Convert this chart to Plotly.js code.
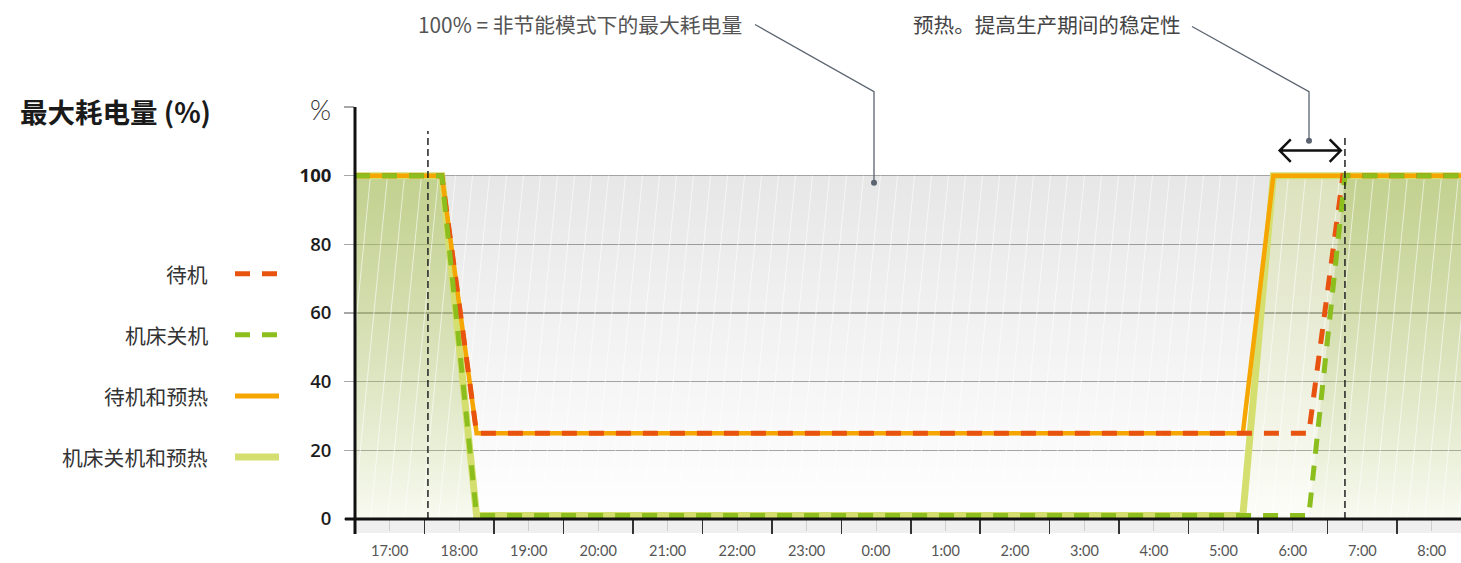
<!DOCTYPE html>
<html>
<head>
<meta charset="utf-8">
<script src="https://cdn.plot.ly/plotly-3.0.1.min.js"></script>
<style>html,body{margin:0;padding:0;background:#fff;}#chart{width:1461px;height:563px;}</style>
</head>
<body>
<div id="chart"></div>
<script>
// ---------- data (hours; values after midnight continue as 24+) ----------
const seriesNames = ['待机', '机床关机', '待机和预热', '机床关机和预热'];
const standbyX        = [16.5, 17.75, 18.25, 30.23, 30.72, 32.5];
const standbyY        = [100, 100, 25, 25, 100, 100];
const machineOffX     = [16.5, 17.75, 18.25, 30.23, 30.75, 32.5];
const machineOffY     = [100, 100, 1, 1, 100, 100];
const standbyHeatX    = [16.5, 17.75, 18.25, 29.28, 29.72, 32.5];
const standbyHeatY    = [100, 100, 25, 25, 100, 100];
const offHeatX        = [16.5, 17.75, 18.25, 29.28, 29.72, 32.5];
const offHeatY        = [100, 100, 1, 1, 100, 100];
const maxLevelX       = [16.5, 32.5];
const maxLevelY       = [100, 100];
const markerTimes     = [17.55, 30.75];      // dashed vertical markers
const preheatSpan     = [29.81, 30.69];      // double arrow span
const hourTicks       = [17,18,19,20,21,22,23,24,25,26,27,28,29,30,31,32];
const hourLabels      = ['17:00','18:00','19:00','20:00','21:00','22:00','23:00','0:00','1:00','2:00','3:00','4:00','5:00','6:00','7:00','8:00'];
const halfHourTicks   = [16.5,17.5,18.5,19.5,20.5,21.5,22.5,23.5,24.5,25.5,26.5,27.5,28.5,29.5,30.5,31.5,32.5];
const yTicks          = [0, 20, 40, 60, 80, 100, 120];
const yLabels         = ['0', '20', '40', '60', '80', '<b>100</b>', ''];
const note1 = '100% = 非节能模式下的最大耗电量';
const note2 = '预热。提高生产期间的稳定性';
const yTitle = '最大耗电量 (%)';

// ---------- styles ----------
const C_RED = '#e8540f', C_GREEN = '#8cbe1e', C_ORANGE = '#f6a600', C_LIGHT = '#d4df70';
const CJK = '"Noto Sans CJK SC", "Noto Sans", sans-serif';

// pixel helpers for layout placement (plot area: left 355, top 107.4, width 1106, height 411.6)
const L = 355, B = 519, W = 1106, H = 411.6;
const px = x => (x - L) / W;
const py = y => (B - y) / H;
const X_MIN = 16.5, X_MAX = 16.5 + W / 69.47;

// decorative hatch (thin, nearly vertical white lines)
const hatchX = [], hatchY = [];
const hStep = 17 / 69.47, hShift = 34 / 69.47;
for (let x = X_MIN - 1; x < X_MAX + 0.5; x += hStep) {
  hatchX.push(x, x + hShift, null);
  hatchY.push(0, 100, null);
}

const traces = [
  { // grey background for max consumption region
    x: maxLevelX, y: maxLevelY, type: 'scatter', mode: 'lines', line: {width: 0},
    fill: 'tozeroy', fillcolor: 'rgba(0,0,0,0.05)',
    fillgradient: {type: 'vertical', start: 0, stop: 100,
      colorscale: [[0, 'rgba(0,0,0,0.0)'], [1, 'rgba(0,0,0,0.095)']]},
    hoverinfo: 'skip', showlegend: false
  },
  { // light fill under 机床关机和预热
    x: offHeatX, y: offHeatY, type: 'scatter', mode: 'lines', line: {width: 0},
    fill: 'tozeroy', fillcolor: 'rgba(200,215,105,0.2)',
    fillgradient: {type: 'vertical', start: 0, stop: 100,
      colorscale: [[0, 'rgba(200,215,105,0.04)'], [1, 'rgba(200,215,105,0.33)']]},
    hoverinfo: 'skip', showlegend: false
  },
  { // darker fill under 机床关机
    x: machineOffX, y: machineOffY, type: 'scatter', mode: 'lines', line: {width: 0},
    fill: 'tozeroy', fillcolor: 'rgba(157,187,79,0.2)',
    fillgradient: {type: 'vertical', start: 0, stop: 100,
      colorscale: [[0, 'rgba(157,187,79,0.05)'], [1, 'rgba(157,187,79,0.42)']]},
    hoverinfo: 'skip', showlegend: false
  },
  { // hatch
    x: hatchX, y: hatchY, type: 'scatter', mode: 'lines',
    line: {color: 'rgba(255,255,255,0.6)', width: 1}, hoverinfo: 'skip', showlegend: false
  },
  { name: seriesNames[3], x: offHeatX, y: offHeatY, type: 'scatter', mode: 'lines',
    line: {color: C_LIGHT, width: 7}, showlegend: false },
  { name: seriesNames[2], x: standbyHeatX, y: standbyHeatY, type: 'scatter', mode: 'lines',
    line: {color: C_ORANGE, width: 4.5}, showlegend: false },
  { name: seriesNames[0], x: standbyX, y: standbyY, type: 'scatter', mode: 'lines',
    line: {color: C_RED, width: 5, dash: '15px,12px'}, showlegend: false },
  { name: seriesNames[1], x: machineOffX, y: machineOffY, type: 'scatter', mode: 'lines',
    line: {color: C_GREEN, width: 5, dash: '15px,12px'}, showlegend: false }
];

const shapes = [];
// tick band below x axis
shapes.push({type: 'rect', xref: 'paper', yref: 'paper', x0: 0, x1: 1, y0: py(533), y1: 0,
  fillcolor: '#efefef', line: {width: 0}, layer: 'below'});
// dashed vertical markers
markerTimes.forEach((t, i) => shapes.push({type: 'line', xref: 'x', yref: 'y', x0: t, x1: t,
  y0: 0, y1: i === 0 ? 113 : 112, line: {color: '#222', width: 1.5, dash: '7px,4px'}, layer: 'above'}));
// axis lines
shapes.push({type: 'line', xref: 'paper', yref: 'paper', x0: px(345), x1: 1, y0: 0, y1: 0,
  line: {color: '#111', width: 3}, layer: 'above'});
shapes.push({type: 'line', xref: 'paper', yref: 'paper', x0: 0, x1: 0, y0: py(534), y1: 1,
  line: {color: '#111', width: 3}, layer: 'above'});
// double arrow for preheat span
const aY = 107.3, hx = 0.16, hy = 3.3;
shapes.push({type: 'path', xref: 'x', yref: 'y', layer: 'above',
  path: `M${preheatSpan[0]},${aY} L${preheatSpan[1]},${aY} M${preheatSpan[0]+hx},${aY+hy} L${preheatSpan[0]},${aY} L${preheatSpan[0]+hx},${aY-hy} M${preheatSpan[1]-hx},${aY+hy} L${preheatSpan[1]},${aY} L${preheatSpan[1]-hx},${aY-hy}`,
  line: {color: '#111', width: 2.5}});
// leader lines
const LEAD = '#5b6470';
shapes.push({type: 'path', xref: 'paper', yref: 'paper', layer: 'above',
  path: `M${px(755)},${py(25)} L${px(874)},${py(92)} L${px(874)},${py(183)}`, line: {color: LEAD, width: 1.3}});
shapes.push({type: 'path', xref: 'paper', yref: 'paper', layer: 'above',
  path: `M${px(1192)},${py(27)} L${px(1309)},${py(92)} L${px(1309)},${py(141)}`, line: {color: LEAD, width: 1.3}});
[[874, 183], [1309, 141]].forEach(([cx, cy]) => shapes.push({type: 'circle', xref: 'paper', yref: 'paper',
  x0: px(cx - 3), x1: px(cx + 3), y0: py(cy + 3), y1: py(cy - 3), fillcolor: LEAD, line: {width: 0}, layer: 'above'}));
// legend keys
const legendY = [274, 335, 396, 457];
const legendStyle = [
  {color: C_RED, width: 5, dash: '15px,12px'},
  {color: C_GREEN, width: 5, dash: '15px,12px'},
  {color: C_ORANGE, width: 5, dash: 'solid'},
  {color: C_LIGHT, width: 7, dash: 'solid'}
];
legendY.forEach((y, i) => shapes.push({type: 'line', xref: 'paper', yref: 'paper',
  x0: px(235), x1: px(279), y0: py(y), y1: py(y), line: legendStyle[i]}));

const annotations = [];
annotations.push({xref: 'paper', yref: 'paper', x: px(18), y: py(111), xanchor: 'left', yanchor: 'middle',
  text: '<b>' + yTitle + '</b>', showarrow: false, font: {family: CJK, size: 27.5, color: '#1a1a1a'}});
annotations.push({xref: 'paper', yref: 'paper', x: px(320), y: py(110), xanchor: 'center', yanchor: 'middle',
  text: '%', showarrow: false, font: {family: 'Lato, "Open Sans", sans-serif', size: 27, color: '#333', weight: 300}});
annotations.push({xref: 'paper', yref: 'paper', x: px(416), y: py(24), xanchor: 'left', yanchor: 'middle',
  text: note1, showarrow: false, font: {family: CJK, size: 20.8, color: '#555'}});
annotations.push({xref: 'paper', yref: 'paper', x: px(911), y: py(24), xanchor: 'left', yanchor: 'middle',
  text: note2, showarrow: false, font: {family: CJK, size: 20.6, color: '#444'}});
const legendOrder = [0, 1, 2, 3];
legendY.forEach((y, i) => annotations.push({xref: 'paper', yref: 'paper', x: px(210), y: py(y), xanchor: 'right', yanchor: 'middle',
  text: seriesNames[legendOrder[i]], showarrow: false, font: {family: CJK, size: 20.8, color: '#333'}}));

const layout = {
  width: 1461, height: 563,
  margin: {l: L, r: 0, t: 107.4, b: 44},
  paper_bgcolor: '#fff', plot_bgcolor: '#fff',
  showlegend: false,
  xaxis: {
    range: [X_MIN, X_MAX], showgrid: false, zeroline: false, showline: false,
    tickmode: 'array', tickvals: hourTicks, ticktext: hourLabels,
    ticks: 'outside', ticklen: 11, tickwidth: 1, tickcolor: '#cfcfcf',
    ticklabelstandoff: 8,
    tickfont: {family: 'Lato, "Open Sans", sans-serif', size: 14.5, color: '#555'},
    minor: {tickmode: 'array', tickvals: halfHourTicks, ticks: 'outside', ticklen: 14, tickwidth: 1.5, tickcolor: '#333', showgrid: false}
  },
  yaxis: {
    range: [0, 120], zeroline: false, showline: false,
    tickmode: 'array', tickvals: yTicks, ticktext: yLabels,
    showgrid: true, gridcolor: '#a8a8a8', gridwidth: 1.5,
    ticks: 'outside', ticklen: 10, tickwidth: 1.5, tickcolor: '#a8a8a8',
    ticklabelstandoff: 9,
    tickfont: {family: '"Open Sans", Roboto, sans-serif', size: 18.5, color: '#1c1c1c', weight: 600}
  },
  shapes: shapes,
  annotations: annotations
};

Plotly.newPlot('chart', traces, layout, {displayModeBar: false, staticPlot: true});
</script>
</body>
</html>
